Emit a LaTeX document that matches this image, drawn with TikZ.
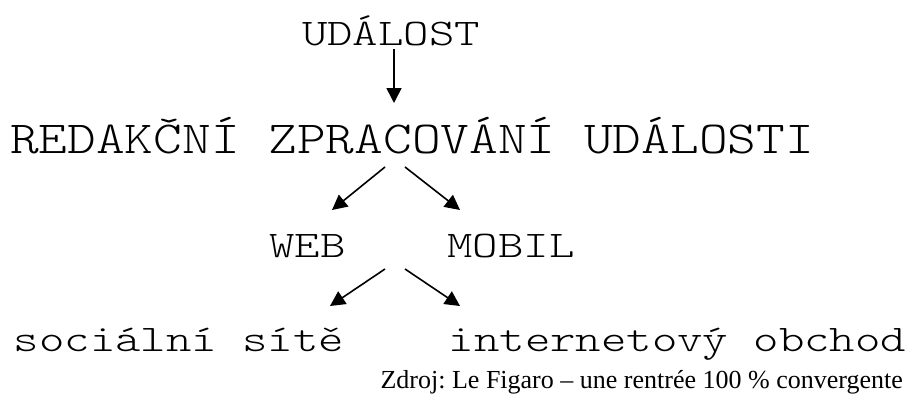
\documentclass[tikz,border=0pt]{standalone}
\usepackage{fontspec}
\newfontfamily\srcfont{Liberation Serif}
\newfontfamily\monofont{Latin Modern Mono Light}
\usetikzlibrary{arrows.meta}
\tikzset{
  label big/.style={inner sep=0pt, anchor=base, font=\monofont\fontsize{45.8}{50}\selectfont},
  label small/.style={inner sep=0pt, anchor=base, font=\monofont\fontsize{37.6}{42}\selectfont},
  source/.style={inner sep=0pt, anchor=base east, font=\srcfont\fontsize{26}{30}\selectfont},
  flow/.style={line width=1.6pt, -{Triangle[length=15pt,width=15pt]}}
}
\newcommand{\widebig}[1]{\scalebox{1.194}[1]{#1}}
\newcommand{\widesmall}[1]{\scalebox{1.287}[1]{#1}}
\frenchspacing
\begin{document}
\begin{tikzpicture}[x=1pt,y=-1pt]
  \useasboundingbox (0,0) rectangle (912,394);

  % text levels
  \node[label small] (event) at (391,45) {\widesmall{UDÁLOST}};
  \node[label big] (editing) at (412,153) {\widebig{REDAKČNÍ ZPRACOVÁNÍ UDÁLOSTI}};
  \node[label small] (web) at (307.5,257) {\widesmall{WEB}};
  \node[label small] (mobile) at (511,257) {\widesmall{MOBIL}};
  \node[label small] (social) at (179,351) {\widesmall{sociální sítě}};
  \node[label small] (shop) at (677.5,351) {\widesmall{internetový obchod}};
  \node[source] (src) at (903,388) {Zdroj: Le Figaro – une rentrée 100 \% convergente};

  % arrow end points
  \coordinate (e1) at (394,49);
  \coordinate (e2) at (394,103);
  \coordinate (s1) at (385,167);
  \coordinate (s2) at (405,167);
  \coordinate (t1) at (332,210);
  \coordinate (t2) at (460,210);
  \coordinate (u1) at (385,269);
  \coordinate (u2) at (405,269);
  \coordinate (v1) at (330,306);
  \coordinate (v2) at (460,306);

  \draw[flow] (e1) -- (e2);
  \draw[flow] (s1) -- (t1);
  \draw[flow] (s2) -- (t2);
  \draw[flow] (u1) -- (v1);
  \draw[flow] (u2) -- (v2);
\end{tikzpicture}
\end{document}
